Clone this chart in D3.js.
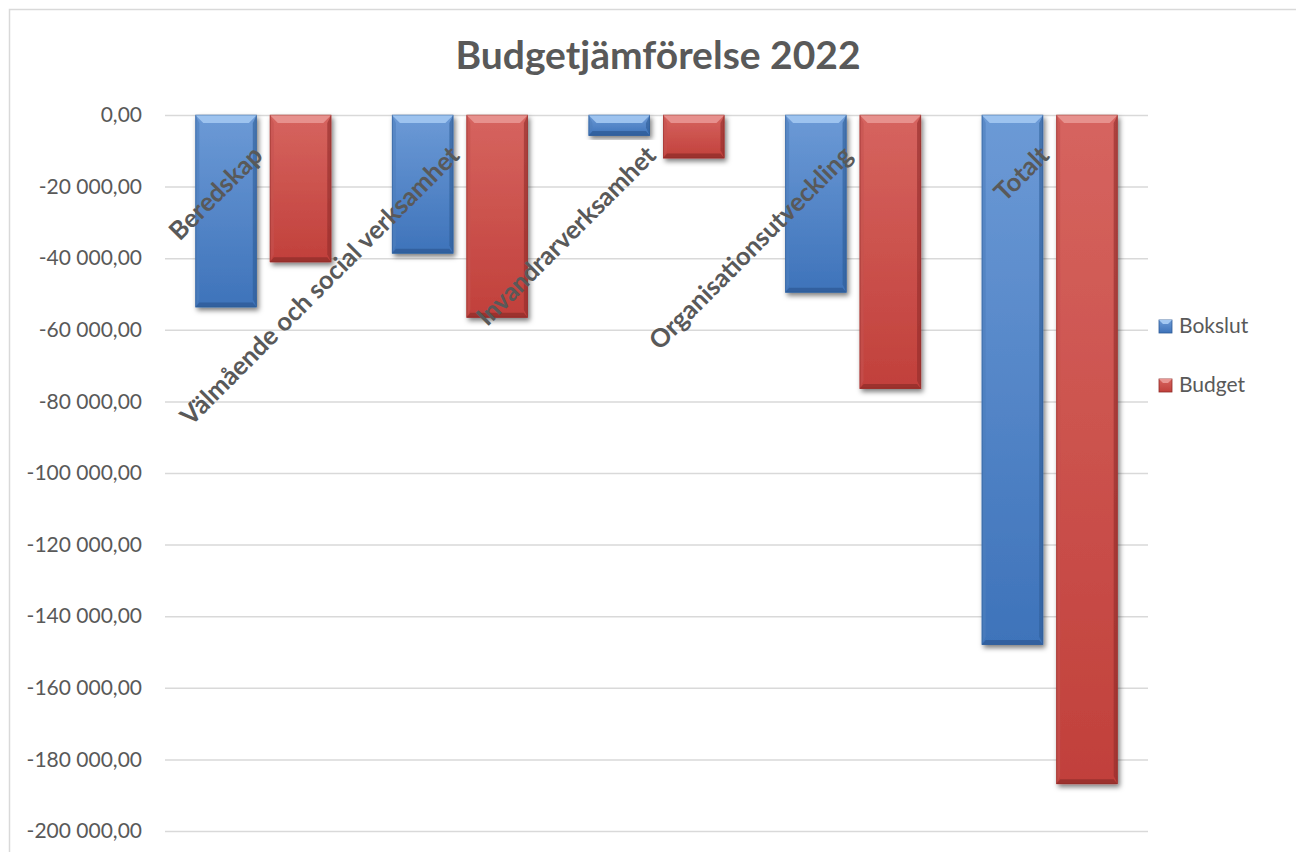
<!DOCTYPE html>
<html>
<head>
<meta charset="utf-8">
<script src="https://cdn.jsdelivr.net/npm/d3@7"></script>
<style>
  body { margin: 0; background: #fff; }
  svg { display: block; font-family: Lato, "Open Sans", sans-serif; }
</style>
</head>
<body>
<svg width="1296" height="852"></svg>
<script>
// dati
const categories = ["Beredskap", "Välmående och social verksamhet", "Invandrarverksamhet", "Organisationsutveckling", "Totalt"];
const seriesNames = ["Bokslut", "Budget"];
const bokslut = [-53700, -38700, -5800, -49600, -148000];
const budget = [-41100, -56600, -12100, -76500, -186900];
const yTicks = [0, -20000, -40000, -60000, -80000, -100000, -120000, -140000, -160000, -180000, -200000];

const svg = d3.select("svg");
const width = +svg.attr("width");
const height = +svg.attr("height");

// colori: corpo (alto/basso), smusso chiaro, bordi scuri
const palette = {
  Bokslut: { top: "#6c9ad6", bottom: "#3e73ba", light: "#a3c8f2", side: "#4f7fbd", dark: "#2d5b96" },
  Budget:  { top: "#d6645f", bottom: "#c1403b", light: "#e99692", side: "#c45450", dark: "#8f2c29" }
};

const defs = svg.append("defs");
seriesNames.forEach(s => {
  const g = defs.append("linearGradient").attr("id", "grad-" + s)
    .attr("x1", 0).attr("y1", 0).attr("x2", 0).attr("y2", 1);
  g.append("stop").attr("offset", "0%").attr("stop-color", palette[s].top);
  g.append("stop").attr("offset", "100%").attr("stop-color", palette[s].bottom);
});
const shadow = defs.append("filter").attr("id", "shadow")
  .attr("x", "-20%").attr("y", "-10%").attr("width", "150%").attr("height", "130%");
shadow.append("feDropShadow").attr("dx", 2).attr("dy", 3).attr("stdDeviation", 2.5)
  .attr("flood-color", "#000").attr("flood-opacity", 0.5);

// cornice del grafico
svg.append("rect")
  .attr("x", 9.5).attr("y", 9.5)
  .attr("width", width + 20).attr("height", height + 20)
  .attr("fill", "#fff").attr("stroke", "#d9d9d9").attr("stroke-width", 1.5);

// scale
const xScale = d3.scaleBand().domain(categories).range([165, 1148]).padding(0);
const xSub = d3.scaleBand().domain(seriesNames).range([0, xScale.bandwidth()])
  .paddingInner(0.175).paddingOuter(0.407);
const yScale = d3.scaleLinear().domain([-200000, 0]).range([831, 115]);

// titolo
svg.append("text")
  .attr("x", 658).attr("y", 69)
  .attr("text-anchor", "middle")
  .attr("font-size", "39px").attr("font-weight", "bold")
  .attr("fill", "#595959")
  .text("Budgetjämförelse 2022");

// griglia + etichette asse y
const fmt = v => {
  const s = d3.format(",.2f")(v);
  return s.replace(/,/g, " ").replace(".", ",").replace("−", "-");
};
const yAxis = d3.axisLeft(yScale).tickValues(yTicks)
  .tickSize(-(1148 - 165)).tickPadding(23).tickFormat(fmt);
const yg = svg.append("g").attr("transform", "translate(165,0)").call(yAxis);
yg.select(".domain").remove();
yg.selectAll(".tick line").attr("stroke", "#d9d9d9").attr("stroke-width", 1.5);
yg.selectAll(".tick text")
  .attr("font-size", "21px").attr("font-family", "Lato, sans-serif")
  .attr("fill", "#595959");

// barre
const rows = categories.map((c, i) => ({ cat: c, Bokslut: bokslut[i], Budget: budget[i] }));
const groups = svg.selectAll(".cat")
  .data(rows)
  .join("g")
  .attr("class", "cat")
  .attr("transform", d => `translate(${xScale(d.cat)},0)`);

const bars = groups.selectAll(".bar")
  .data(d => seriesNames.map(s => ({ s, v: d[s] })))
  .join("g")
  .attr("class", "bar")
  .attr("filter", "url(#shadow)");

bars.each(function(d) {
  const g = d3.select(this);
  const x0 = xSub(d.s), w = xSub.bandwidth();
  const y0 = yScale(0), y1 = yScale(d.v);
  const h = y1 - y0;
  const b = Math.min(8, h / 2.5);
  const c = palette[d.s];
  g.append("rect").attr("x", x0).attr("y", y0).attr("width", w).attr("height", h)
    .attr("fill", `url(#grad-${d.s})`);
  const poly = (pts, fill, op) => g.append("polygon")
    .attr("points", pts.map(p => p.join(",")).join(" "))
    .attr("fill", fill).attr("opacity", op);
  // smusso superiore
  poly([[x0, y0], [x0 + w, y0], [x0 + w - b, y0 + b], [x0 + b, y0 + b]], c.light, 0.9);
  // lato sinistro
  poly([[x0, y0], [x0 + b * 0.5, y0 + b], [x0 + b * 0.5, y1 - b], [x0, y1]], c.side, 0.6);
  // lato destro
  poly([[x0 + w, y0], [x0 + w - b * 0.5, y0 + b], [x0 + w - b * 0.5, y1 - b], [x0 + w, y1]], c.dark, 0.6);
  // bordo inferiore
  poly([[x0, y1], [x0 + w, y1], [x0 + w - b * 0.5, y1 - b * 0.6], [x0 + b * 0.5, y1 - b * 0.6]], c.dark, 0.75);
  g.append("rect").attr("x", x0 + 0.5).attr("y", y0).attr("width", w - 1).attr("height", h - 0.5)
    .attr("fill", "none").attr("stroke", c.dark).attr("stroke-opacity", 0.5).attr("stroke-width", 1);
});

// etichette categorie ruotate
svg.selectAll(".cat-label")
  .data(categories)
  .join("text")
  .attr("class", "cat-label")
  .attr("text-anchor", "end")
  .attr("font-size", "25.5px").attr("font-weight", "bold")
  .attr("fill", "#595959")
  .attr("transform", d => `translate(${xScale(d) + xScale.bandwidth() / 2 + 1},157) rotate(-45)`)
  .text(d => d);

// legenda
const legend = svg.append("g").attr("transform", "translate(1159,0)");
seriesNames.forEach((s, i) => {
  const ly = 326 + i * 59;
  const c = palette[s];
  legend.append("rect").attr("x", 0).attr("y", ly - 6).attr("width", 13).attr("height", 13)
    .attr("fill", `url(#grad-${s})`).attr("stroke", c.dark).attr("stroke-width", 0.8);
  legend.append("polygon")
    .attr("points", `0,${ly - 6} 13,${ly - 6} 9,${ly - 2} 4,${ly - 2}`)
    .attr("fill", c.light);
  legend.append("text").attr("x", 20).attr("y", ly).attr("dy", "0.35em")
    .attr("font-size", "21px").attr("fill", "#595959").text(s);
});
</script>
</body>
</html>
